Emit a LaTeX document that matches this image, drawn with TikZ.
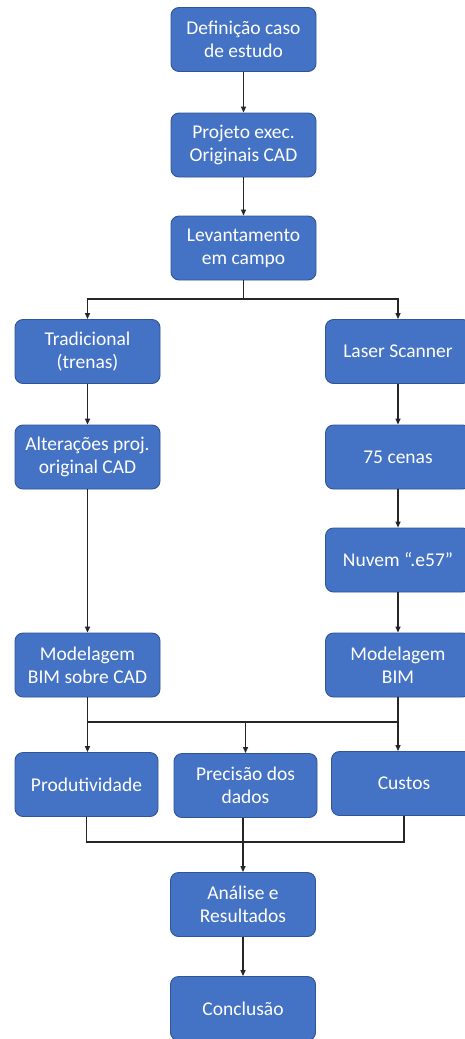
\documentclass[tikz,border=0pt]{standalone}
\usepackage{fontspec}
\setmainfont{Carlito}
\usetikzlibrary{arrows.meta}
\definecolor{boxblue}{HTML}{4472C4}
\definecolor{boxedge}{HTML}{2F5597}
\begin{document}
\begin{tikzpicture}[x=1pt,y=-1pt,
  blk/.style={draw=boxedge,line width=0.9pt,fill=boxblue,rounded corners=8pt,
    minimum width=145pt,minimum height=64pt,inner sep=2pt,align=center,
    text=white,font=\fontsize{19.5}{23}\selectfont},
  conn/.style={line width=1.3pt,draw=black!85},
  arr/.style={conn,-{Triangle[length=6pt,width=5pt]}}]
\useasboundingbox[fill=white] (0,0) rectangle (464,1039);
\node[blk] (n1) at (243.5,39.5) {Definição caso\\de estudo};
\node[blk] (n2) at (243.5,145) {Projeto exec.\\Originais CAD};
\node[blk] (n3) at (243.5,248) {Levantamento\\em campo};
\node[blk] (tra) at (87.5,351.5) {Tradicional\\(trenas)};
\node[blk] (las) at (398,351.5) {Laser Scanner};
\node[blk] (alt) at (87.5,457) {Alterações proj.\\original CAD};
\node[blk] (c75) at (398,457) {75 cenas};
\node[blk] (nuv) at (398,560) {Nuvem “.e57”};
\node[blk] (modL) at (87.5,665) {Modelagem\\BIM sobre CAD};
\node[blk] (modR) at (398,665) {Modelagem\\BIM};
\node[blk,minimum width=143pt] (prod) at (86.5,784.5) {Produtividade};
\node[blk,minimum width=143pt] (prec) at (245.5,785.5) {Precisão dos\\dados};
\node[blk] (cust) at (404,783.5) {Custos};
\node[blk] (ana) at (243,904.5) {Análise e\\Resultados};
\node[blk] (con) at (243,1008.5) {Conclusão};
\coordinate (j1) at (243.5,299);
\coordinate (m) at (245.5,722);
\coordinate (b) at (243,842);
\draw[arr] (n1) -- (n2);
\draw[arr] (n2) -- (n3);
\draw[conn] (n3.south) -- (j1);
\draw[arr] (j1) -| (tra.north);
\draw[arr] (j1) -| (las.north);
\draw[arr] (tra) -- (alt);
\draw[arr] (las) -- (c75);
\draw[arr] (c75) -- (nuv);
\draw[arr] (nuv) -- (modR);
\draw[arr] (alt) -- (modL);
\draw[conn] (modL.south) |- (m);
\draw[conn] (modR.south) |- (m);
\draw[arr] (modL.south) -- (modL.south |- prod.north);
\draw[arr] (m) -- (prec.north);
\draw[arr] (modR.south |- m) -- (modR.south |- cust.north);
\draw[conn] (prod.south) |- (b) -| (cust.south);
\draw[arr] (ana.north |- prec.south) -- (ana.north);
\draw[arr] (ana) -- (con);
\end{tikzpicture}
\end{document}
